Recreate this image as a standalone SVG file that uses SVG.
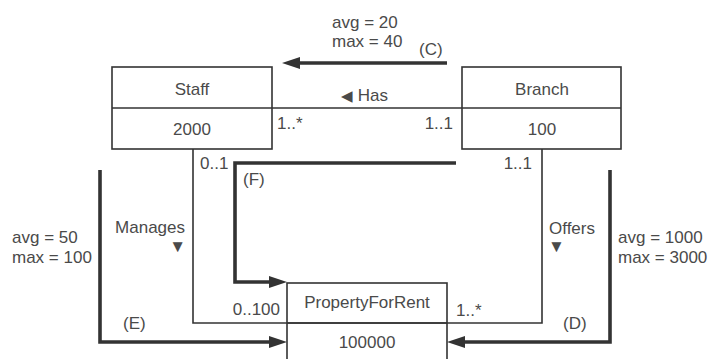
<svg xmlns="http://www.w3.org/2000/svg" width="710" height="359" viewBox="0 0 710 359">
<style>
text{font-family:"Liberation Sans",Arial,sans-serif;font-size:17px;fill:#4a4a4a}
.c{text-anchor:middle}
.e{text-anchor:end}
.box{fill:#fff;stroke:#333;stroke-width:1.6}
.thin{fill:none;stroke:#333;stroke-width:1.6}
.thick{fill:none;stroke:#333;stroke-width:3.6;marker-end:url(#ah)}
</style>
<defs>
<marker id="ah" viewBox="0 0 18 12" refX="0" refY="6" markerWidth="18" markerHeight="12" markerUnits="userSpaceOnUse" orient="auto">
<path d="M0,0 L18,6 L0,12 z" fill="#333"/>
</marker>
</defs>
<g id="connectors">
<path class="thin" d="M272,108 H462"/>
<path class="thin" d="M193,149 V323 H542 V149"/>
<path class="thick" d="M447,63 H300"/>
<path class="thick" d="M456,163 H235 V282 H269"/>
<path class="thick" d="M100,170 V342 H269"/>
<path class="thick" d="M610,170 V342 H465"/>
<text x="277" y="129">1..*</text>
<text x="453" y="129" class="e">1..1</text>
<text x="200" y="169">0..1</text>
<text x="532" y="169" class="e">1..1</text>
<text x="280" y="315" class="e">0..100</text>
<text x="456" y="316">1..*</text>
<text x="341" y="101"><tspan font-size="15">◀</tspan> Has</text>
<text x="185" y="233" class="e">Manages</text>
<text x="186" y="252" class="e" font-size="14">▼</text>
<text x="549" y="234">Offers</text>
<text x="548" y="252" font-size="14">▼</text>
<text x="332" y="28">avg = 20</text>
<text x="332" y="47">max = 40</text>
<text x="419" y="55">(C)</text>
<text x="243" y="185">(F)</text>
<text x="12" y="243">avg = 50</text>
<text x="12" y="263">max = 100</text>
<text x="123" y="329">(E)</text>
<text x="618" y="243">avg = 1000</text>
<text x="618" y="263">max = 3000</text>
<text x="563" y="329">(D)</text>
</g>
<g id="staff">
<rect class="box" x="112" y="67" width="160" height="82"/>
<line class="thin" x1="112" y1="108" x2="272" y2="108"/>
<text x="192" y="95" class="c">Staff</text>
<text x="192" y="135" class="c">2000</text>
</g>
<g id="branch">
<rect class="box" x="462" y="67" width="159" height="82"/>
<line class="thin" x1="462" y1="108" x2="621" y2="108"/>
<text x="542" y="95" class="c">Branch</text>
<text x="542" y="135" class="c">100</text>
</g>
<g id="propertyforrent">
<rect class="box" x="287" y="283" width="160" height="90" style="fill:none"/>
<line class="thin" x1="287" y1="323" x2="447" y2="323"/>
<text x="367" y="308" class="c">PropertyForRent</text>
<text x="367" y="348" class="c">100000</text>
</g>
</svg>
